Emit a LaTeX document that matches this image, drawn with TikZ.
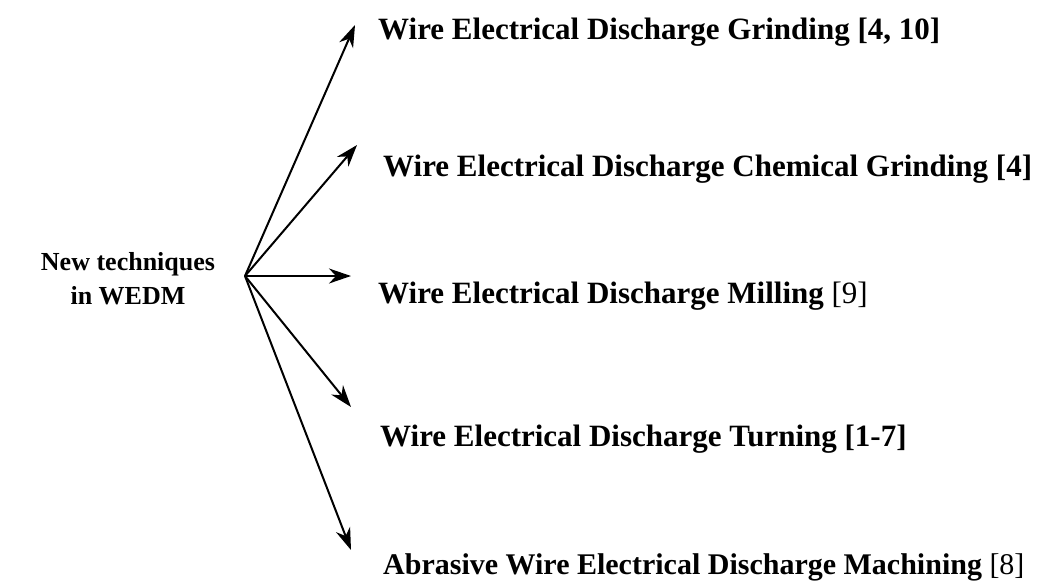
\documentclass[tikz,border=0pt]{standalone}
\usepackage{fontspec}
\setmainfont{Liberation Serif}
\usetikzlibrary{arrows.meta}

\tikzset{
  branch/.style={anchor=base west,font=\fontsize{31}{36}\selectfont\bfseries,inner sep=0pt},
  ref/.style={->,line width=2pt},
}

\begin{document}
\begin{tikzpicture}[x=1pt,y=-1pt,>={Stealth[length=22pt,width=15pt,inset=7pt]}]
            \useasboundingbox (0,0) rectangle (1043,584);
            \node [align=center,font=\fontsize{26}{34}\selectfont\bfseries] (root) at (128,279) {New techniques\\in WEDM};
            \coordinate (hub) at (245,276);
            % branches
            \node [branch] (grind) at (378,39) {Wire Electrical Discharge Grinding [4, 10]};
            \node [branch] (chem) at (383,176) {Wire Electrical Discharge Chemical Grinding [4]};
            \node [branch] (mill) at (378,303) {Wire Electrical Discharge Milling \textmd{[9]}};
            \node [branch] (turn) at (380,446) {Wire Electrical Discharge Turning [1-7]};
            \node [branch,font=\fontsize{30}{36}\selectfont\bfseries] (awedm) at (383,574) {Abrasive Wire Electrical Discharge Machining \textmd{[8]}};
            % arrow tips
            \coordinate (t1) at (355,25);
            \coordinate (t2) at (357,145);
            \coordinate (t3) at (351,276);
            \coordinate (t4) at (351,407);
            \coordinate (t5) at (351,550);
            \foreach \t in {t1,t2,t3,t4,t5}
              \draw [ref] (hub) -- (\t);
        \end{tikzpicture}
\end{document}
